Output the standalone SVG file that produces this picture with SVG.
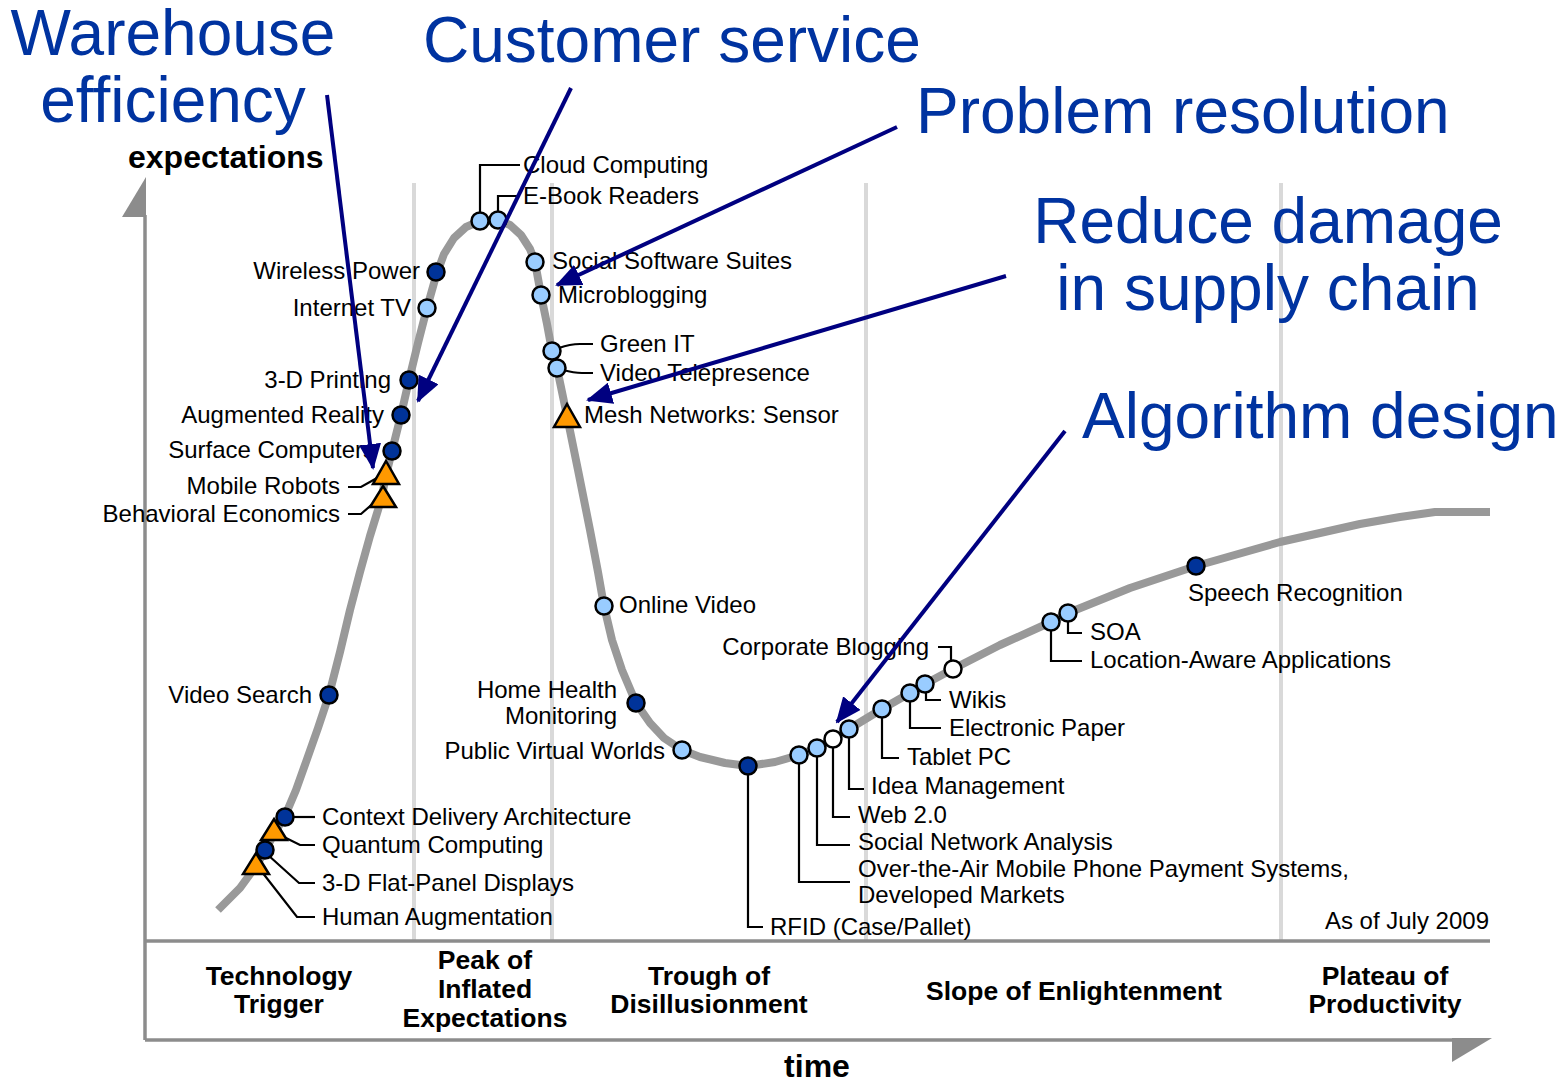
<svg xmlns="http://www.w3.org/2000/svg" width="1561" height="1082" viewBox="0 0 1561 1082">
<style>
text{font-family:"Liberation Sans",Arial,sans-serif;fill:#000}
.lb{font-size:24px}
.e{text-anchor:end}
.ph{font-size:26.5px;font-weight:bold;text-anchor:middle}
.ax{font-size:32px;font-weight:bold}
.call{font-size:64px;fill:#0033a0}
.m{text-anchor:middle}
.dk{fill:#003399;stroke:#000;stroke-width:2.5}
.lt{fill:#99ccff;stroke:#000;stroke-width:2.5}
.wh{fill:#fff;stroke:#000;stroke-width:2.5}
.tri{fill:#ff9900;stroke:#000;stroke-width:2.5;stroke-linejoin:miter}
.ld{fill:none;stroke:#000;stroke-width:2.2}
.div{stroke:#d9d9d9;stroke-width:4}
.axl{stroke:#8c8c8c;stroke-width:3.5;fill:none}
.arr{stroke:#000080;stroke-width:4;fill:none;marker-end:url(#ah)}
</style>
<defs>
<marker id="ah" markerUnits="userSpaceOnUse" markerWidth="26" markerHeight="22" refX="24" refY="11" orient="auto">
<path d="M0,0 L26,11 L0,22 z" fill="#000080"/>
</marker>
</defs>
<rect width="1561" height="1082" fill="#fff"/>

<g id="frame">
<line class="div" x1="414" y1="183" x2="414" y2="941"/>
<line class="div" x1="552" y1="183" x2="552" y2="941"/>
<line class="div" x1="866" y1="183" x2="866" y2="941"/>
<line class="div" x1="1281" y1="183" x2="1281" y2="941"/>
<line class="axl" x1="145" y1="215" x2="145" y2="1040"/>
<polygon points="146,177 146,217 122,217" fill="#8c8c8c"/>
<line class="axl" x1="145" y1="941" x2="1490" y2="941"/>
<line class="axl" x1="145" y1="1040" x2="1455" y2="1040"/>
<polygon points="1452,1038 1492,1038 1452,1062" fill="#8c8c8c"/>
<text class="ax" x="128" y="168">expectations</text>
<text class="ax m" x="817" y="1077">time</text>
<text class="lb e" x="1489" y="929">As of July 2009</text>
</g>

<g id="phases">
<text class="ph" x="279" y="985">Technology</text>
<text class="ph" x="279" y="1013">Trigger</text>
<text class="ph" x="485" y="969">Peak of</text>
<text class="ph" x="485" y="998">Inflated</text>
<text class="ph" x="485" y="1027">Expectations</text>
<text class="ph" x="709" y="985">Trough of</text>
<text class="ph" x="709" y="1013">Disillusionment</text>
<text class="ph" x="1074" y="1000">Slope of Enlightenment</text>
<text class="ph" x="1385" y="985">Plateau of</text>
<text class="ph" x="1385" y="1013">Productivity</text>
</g>

<g id="curve">
<polyline fill="none" stroke="#999" stroke-width="8" stroke-linejoin="round" points="218,910 240,888 256,866 265,851 274,834 285,816 296,790 306,762 318,728 329,695 340,652 350,610 360,572 370,536 378,510 382,496 386,475 392,451 401,415 409,380 418,343 427,308 436,276 444,254 454,238 466,227 480,221 498,220 510,225 521,235 530,249 535,262 541,295 547,324 552,351 557,368 567,416 578,470 590,530 598,572 604,606 612,640 622,670 636,703 650,723 664,738 682,750 700,757 725,763 748,766 775,762 799,755 817,748 833,739 849,729 882,709 910,693 925,684 953,669 1000,645 1051,622 1068,613 1130,588 1196,566 1280,542 1360,524 1400,517 1435,512 1490,512"/>
</g>

<g id="n-wireless-power"><circle class="dk" cx="436" cy="272" r="8.5"/><text class="lb e" x="420" y="279">Wireless Power</text></g>
<g id="n-internet-tv"><circle class="lt" cx="427" cy="308" r="8.5"/><text class="lb e" x="411" y="316">Internet TV</text></g>
<g id="n-3d-printing"><circle class="dk" cx="409" cy="380" r="8.5"/><text class="lb e" x="391" y="388">3-D Printing</text></g>
<g id="n-augmented-reality"><circle class="dk" cx="401" cy="415" r="8.5"/><text class="lb e" x="384" y="423">Augmented Reality</text></g>
<g id="n-surface-computers"><circle class="dk" cx="392" cy="451" r="8.5"/><text class="lb e" x="375" y="458">Surface Computers</text></g>
<g id="n-mobile-robots"><polyline class="ld" points="348,487 361,487 377,478"/><polygon class="tri" points="386,461 399,484 373,484"/><text class="lb e" x="340" y="494">Mobile Robots</text></g>
<g id="n-behavioral-economics"><polyline class="ld" points="348,514 361,514 377,500"/><polygon class="tri" points="383,486 396,507 370,507"/><text class="lb e" x="340" y="522">Behavioral Economics</text></g>
<g id="n-video-search"><circle class="dk" cx="329" cy="695" r="8.5"/><text class="lb e" x="312" y="703">Video Search</text></g>
<g id="n-context-delivery"><line class="ld" x1="293" y1="817" x2="315" y2="817"/><circle class="dk" cx="285" cy="817" r="8.5"/><text class="lb" x="322" y="825">Context Delivery Architecture</text></g>
<g id="n-quantum-computing"><polyline class="ld" points="282,836 300,845 315,845"/><polygon class="tri" points="274,819 287,840 261,840"/><text class="lb" x="322" y="853">Quantum Computing</text></g>
<g id="n-3d-flat-panel"><polyline class="ld" points="268,855 299,883 315,883"/><circle class="dk" cx="265" cy="850" r="8.5"/><text class="lb" x="322" y="891">3-D Flat-Panel Displays</text></g>
<g id="n-human-augmentation"><polyline class="ld" points="262,872 297,917 315,917"/><polygon class="tri" points="256,853 269,874 243,874"/><text class="lb" x="322" y="925">Human Augmentation</text></g>
<g id="n-cloud-computing"><polyline class="ld" points="480,213 480,165 520,165"/><circle class="lt" cx="480" cy="221" r="8.5"/><text class="lb" x="523" y="173">Cloud Computing</text></g>
<g id="n-ebook-readers"><polyline class="ld" points="498,212 498,196 520,196"/><circle class="lt" cx="498" cy="220" r="8.5"/><text class="lb" x="523" y="204">E-Book Readers</text></g>
<g id="n-social-software"><circle class="lt" cx="535" cy="262" r="8.5"/><text class="lb" x="552" y="269">Social Software Suites</text></g>
<g id="n-microblogging"><circle class="lt" cx="541" cy="295" r="8.5"/><text class="lb" x="558" y="303">Microblogging</text></g>
<g id="n-green-it"><path class="ld" d="M559,348 Q570,344 580,344 L593,344"/><circle class="lt" cx="552" cy="351" r="8.5"/><text class="lb" x="600" y="352">Green IT</text></g>
<g id="n-video-telepresence"><path class="ld" d="M563,370 Q574,373 582,373 L593,373"/><circle class="lt" cx="557" cy="368" r="8.5"/><text class="lb" x="600" y="381">Video Telepresence</text></g>
<g id="n-mesh-networks"><polygon class="tri" points="567,404 580,427 554,427"/><text class="lb" x="584" y="423">Mesh Networks: Sensor</text></g>
<g id="n-online-video"><circle class="lt" cx="604" cy="606" r="8.5"/><text class="lb" x="619" y="613">Online Video</text></g>
<g id="n-home-health"><circle class="dk" cx="636" cy="703" r="8.5"/><text class="lb e" x="617" y="698">Home Health</text><text class="lb e" x="617" y="724">Monitoring</text></g>
<g id="n-public-virtual-worlds"><circle class="lt" cx="682" cy="750" r="8.5"/><text class="lb e" x="665" y="759">Public Virtual Worlds</text></g>
<g id="n-rfid"><polyline class="ld" points="748,774 748,927 763,927"/><circle class="dk" cx="748" cy="766" r="8.5"/><text class="lb" x="770" y="935">RFID (Case/Pallet)</text></g>
<g id="n-ota-payment"><polyline class="ld" points="799,763 799,882 850,882"/><circle class="lt" cx="799" cy="755" r="8.5"/><text class="lb" x="858" y="877">Over-the-Air Mobile Phone Payment Systems,</text><text class="lb" x="858" y="903">Developed Markets</text></g>
<g id="n-social-network-analysis"><polyline class="ld" points="817,756 817,845 850,845"/><circle class="lt" cx="817" cy="748" r="8.5"/><text class="lb" x="858" y="850">Social Network Analysis</text></g>
<g id="n-web20"><polyline class="ld" points="833,747 833,817 850,817"/><circle class="wh" cx="833" cy="739" r="8.5"/><text class="lb" x="858" y="823">Web 2.0</text></g>
<g id="n-idea-management"><polyline class="ld" points="849,737 849,789 864,789"/><circle class="lt" cx="849" cy="729" r="8.5"/><text class="lb" x="871" y="794">Idea Management</text></g>
<g id="n-tablet-pc"><polyline class="ld" points="882,717 882,758 899,758"/><circle class="lt" cx="882" cy="709" r="8.5"/><text class="lb" x="907" y="765">Tablet PC</text></g>
<g id="n-electronic-paper"><polyline class="ld" points="910,701 910,728 941,728"/><circle class="lt" cx="910" cy="693" r="8.5"/><text class="lb" x="949" y="736">Electronic Paper</text></g>
<g id="n-wikis"><polyline class="ld" points="926,692 926,700 941,700"/><circle class="lt" cx="925" cy="684" r="8.5"/><text class="lb" x="949" y="708">Wikis</text></g>
<g id="n-corporate-blogging"><polyline class="ld" points="938,647 951,647 951,661"/><circle class="wh" cx="953" cy="669" r="8.5"/><text class="lb e" x="929" y="655">Corporate Blogging</text></g>
<g id="n-location-aware"><polyline class="ld" points="1051,630 1051,661 1082,661"/><circle class="lt" cx="1051" cy="622" r="8.5"/><text class="lb" x="1090" y="668">Location-Aware Applications</text></g>
<g id="n-soa"><polyline class="ld" points="1068,621 1068,633 1082,633"/><circle class="lt" cx="1068" cy="613" r="8.5"/><text class="lb" x="1090" y="640">SOA</text></g>
<g id="n-speech-recognition"><circle class="dk" cx="1196" cy="566" r="8.5"/><text class="lb" x="1188" y="601">Speech Recognition</text></g>

<g id="callouts">
<text class="call m" x="173" y="55">Warehouse</text>
<text class="call m" x="173" y="122">efficiency</text>
<text class="call" x="423" y="62">Customer service</text>
<text class="call" x="916" y="133">Problem resolution</text>
<text class="call m" x="1268" y="243">Reduce damage</text>
<text class="call m" x="1268" y="310">in supply chain</text>
<text class="call" x="1082" y="438">Algorithm design</text>
</g>

<g id="connectors">
<line class="arr" x1="327" y1="95" x2="373" y2="468"/>
<line class="arr" x1="571" y1="88" x2="418" y2="401"/>
<line class="arr" x1="897" y1="127" x2="557" y2="285"/>
<line class="arr" x1="1006" y1="276" x2="588" y2="400"/>
<line class="arr" x1="1065" y1="431" x2="837" y2="722"/>
</g>
</svg>
